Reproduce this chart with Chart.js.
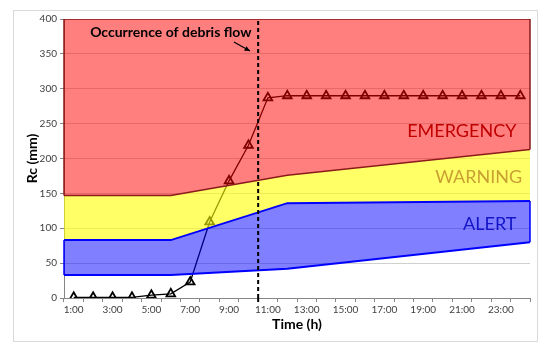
<!DOCTYPE html>
<html>
<head>
<meta charset="utf-8">
<script src="https://cdn.jsdelivr.net/npm/chart.js@4.4.1/dist/chart.umd.min.js"></script>
<style>
  html,body{margin:0;padding:0;background:#fff}
  #wrap{width:550px;height:351px}
</style>
</head>
<body>
<div id="wrap"><canvas id="chart" width="550" height="351"></canvas></div>
<script>
// --- data ---
const hours = ['1:00','2:00','3:00','4:00','5:00','6:00','7:00','8:00','9:00','10:00','11:00','12:00',
               '13:00','14:00','15:00','16:00','17:00','18:00','19:00','20:00','21:00','22:00','23:00','24:00'];
const rc = [1,1,1,1,4,6,23,109,168,219,287,290,290,290,290,290,290,290,290,290,290,290,290,290];

// threshold bands (hour on a continuous axis, mm)
const bandHours     = [0.5, 6, 12, 24.5];
const alertLow      = [33, 33, 42, 80];
const alertHigh     = [83, 83, 136, 139];
const warningHigh   = [147, 147, 176, 213];
const emergencyHigh = [400, 400, 400, 400];

const debrisHour = 10.5;   // dashed line, occurrence of debris flow
const yTicks = [0, 400, 50]; // min, max, step

// text labels placed in data units (hour, mm)
const bandLabels = [
  {text:'EMERGENCY', x:23.8, y:239, color:'#C00000'},
  {text:'WARNING',   x:24.1, y:173, color:'#C9A032'},
  {text:'ALERT',     x:23.8, y:106, color:'#1414C8'}
];
const note = {text:'Occurrence of debris flow', x:6.0, y:381, from:[9.25,367], to:[10.08,354]};

const FONT = 'Lato';
const pts = (xs, ys) => xs.map((x, i) => ({x: x, y: ys[i]}));

const decor = {
  id:'decor',
  beforeDraw(c){
    const ctx = c.ctx;
    ctx.save();
    ctx.strokeStyle = '#d9d9d9'; ctx.lineWidth = 1;
    ctx.strokeRect(13.5, 10.5, 524, 331);
    ctx.restore();
  },
  afterDatasetsDraw(c){
    const ctx = c.ctx, xb = c.scales.xb, y = c.scales.y;
    const x0 = xb.getPixelForValue(bandHours[0]), x1 = xb.getPixelForValue(bandHours[bandHours.length-1]);
    const n = bandHours.length - 1;
    ctx.save();
    // side edges of the boxes
    ctx.lineWidth = 1.5;
    ctx.strokeStyle = '#8B1A1A';
    ctx.beginPath();
    ctx.moveTo(x0, y.getPixelForValue(warningHigh[0])); ctx.lineTo(x0, y.getPixelForValue(emergencyHigh[0]));
    ctx.moveTo(x1, y.getPixelForValue(warningHigh[n])); ctx.lineTo(x1, y.getPixelForValue(emergencyHigh[n]));
    ctx.stroke();
    ctx.strokeStyle = '#0000FF';
    ctx.beginPath();
    ctx.moveTo(x0, y.getPixelForValue(alertLow[0])); ctx.lineTo(x0, y.getPixelForValue(alertHigh[0]));
    ctx.moveTo(x1, y.getPixelForValue(alertLow[n])); ctx.lineTo(x1, y.getPixelForValue(alertHigh[n]));
    ctx.stroke();

    // dashed line runs a little past the axis
    const dx = xb.getPixelForValue(debrisHour);
    ctx.strokeStyle = '#000'; ctx.lineWidth = 2; ctx.setLineDash([4,3]);
    ctx.beginPath(); ctx.moveTo(dx, y.getPixelForValue(yTicks[0])); ctx.lineTo(dx, y.getPixelForValue(yTicks[0]) + 4); ctx.stroke();
    ctx.setLineDash([]);

    // band names
    ctx.font = '18px ' + FONT;
    ctx.textAlign = 'right'; ctx.textBaseline = 'middle';
    bandLabels.forEach(l => {
      ctx.fillStyle = l.color;
      ctx.fillText(l.text, xb.getPixelForValue(l.x), y.getPixelForValue(l.y));
    });

    // note + arrow
    ctx.font = 'bold 14px ' + FONT;
    ctx.textAlign = 'center'; ctx.fillStyle = '#000';
    ctx.fillText(note.text, xb.getPixelForValue(note.x), y.getPixelForValue(note.y));
    const ax = xb.getPixelForValue(note.from[0]), ay = y.getPixelForValue(note.from[1]);
    const bx = xb.getPixelForValue(note.to[0]),   by = y.getPixelForValue(note.to[1]);
    ctx.strokeStyle = '#000'; ctx.lineWidth = 1.2;
    ctx.beginPath(); ctx.moveTo(ax, ay); ctx.lineTo(bx, by); ctx.stroke();
    const a = Math.atan2(by - ay, bx - ax), h = 6;
    ctx.beginPath();
    ctx.moveTo(bx, by);
    ctx.lineTo(bx - h*Math.cos(a - 0.45), by - h*Math.sin(a - 0.45));
    ctx.lineTo(bx - h*Math.cos(a + 0.45), by - h*Math.sin(a + 0.45));
    ctx.closePath(); ctx.fill();
    ctx.restore();
  }
};

new Chart(document.getElementById('chart').getContext('2d'), {
  type:'line',
  data:{ labels:hours, datasets:[
    { label:'Rc', data:rc, xAxisID:'x', borderColor:'#000', borderWidth:1.3,
      pointStyle:'triangle', pointRadius:5, pointBorderWidth:1.8,
      pointBackgroundColor:'rgba(0,0,0,0)', pointBorderColor:'#000', order:10 },
    { label:'alertLow', data:pts(bandHours, alertLow), xAxisID:'xb', borderColor:'#0000FF', borderWidth:2,
      pointRadius:0, fill:false, order:1 },
    { label:'alert', data:pts(bandHours, alertHigh), xAxisID:'xb', borderColor:'#0000FF', borderWidth:2,
      pointRadius:0, fill:'-1', backgroundColor:'rgba(0,0,255,0.5)', order:1 },
    { label:'warning', data:pts(bandHours, warningHigh), xAxisID:'xb', borderColor:'#8B1A1A', borderWidth:1.5,
      pointRadius:0, fill:'-1', backgroundColor:'rgba(255,255,0,0.6)', order:1 },
    { label:'emergency', data:pts(bandHours, emergencyHigh), xAxisID:'xb', borderColor:'#8B1A1A', borderWidth:1.5,
      pointRadius:0, fill:'-1', backgroundColor:'rgba(255,0,0,0.5)', order:1 },
    { label:'debris', data:[{x:debrisHour,y:yTicks[0]},{x:debrisHour,y:yTicks[1]}], xAxisID:'xb',
      borderColor:'#000', borderWidth:2, borderDash:[4,3], pointRadius:0, fill:false, order:0 }
  ]},
  options:{
    responsive:false, animation:false, devicePixelRatio:1,
    layout:{ padding:{ left:20, right:20, top:19, bottom:14 } },
    plugins:{ legend:{display:false}, tooltip:{enabled:false} },
    scales:{
      x:{ type:'category', offset:true,
        grid:{ offset:true, drawOnChartArea:false, tickLength:4, tickColor:'#868686' },
        border:{ color:'#868686' },
        ticks:{ autoSkip:false, maxRotation:0, padding:2, color:'#404040', font:{family:FONT, size:10},
          callback:(v, i) => i % 2 === 0 ? hours[i] : '' },
        title:{ display:true, text:'Time (h)', color:'#000', font:{family:FONT, size:14, weight:'bold'}, padding:{top:4,bottom:4} },
        afterFit:s => { s.height = 39; }
      },
      xb:{ type:'linear', min:bandHours[0], max:bandHours[bandHours.length-1], display:false },
      y:{ min:yTicks[0], max:yTicks[1],
        grid:{ color:'#d0d0d0', tickLength:4, tickColor:'#868686' },
        border:{ color:'#868686' },
        ticks:{ stepSize:yTicks[2], padding:3, color:'#404040', font:{family:FONT, size:10} },
        title:{ display:true, text:'Rc (mm)', color:'#000', font:{family:FONT, size:14, weight:'bold'}, padding:{top:4,bottom:4} },
        afterFit:s => { s.width = 44; }
      }
    }
  },
  plugins:[decor]
});
</script>
</body>
</html>
